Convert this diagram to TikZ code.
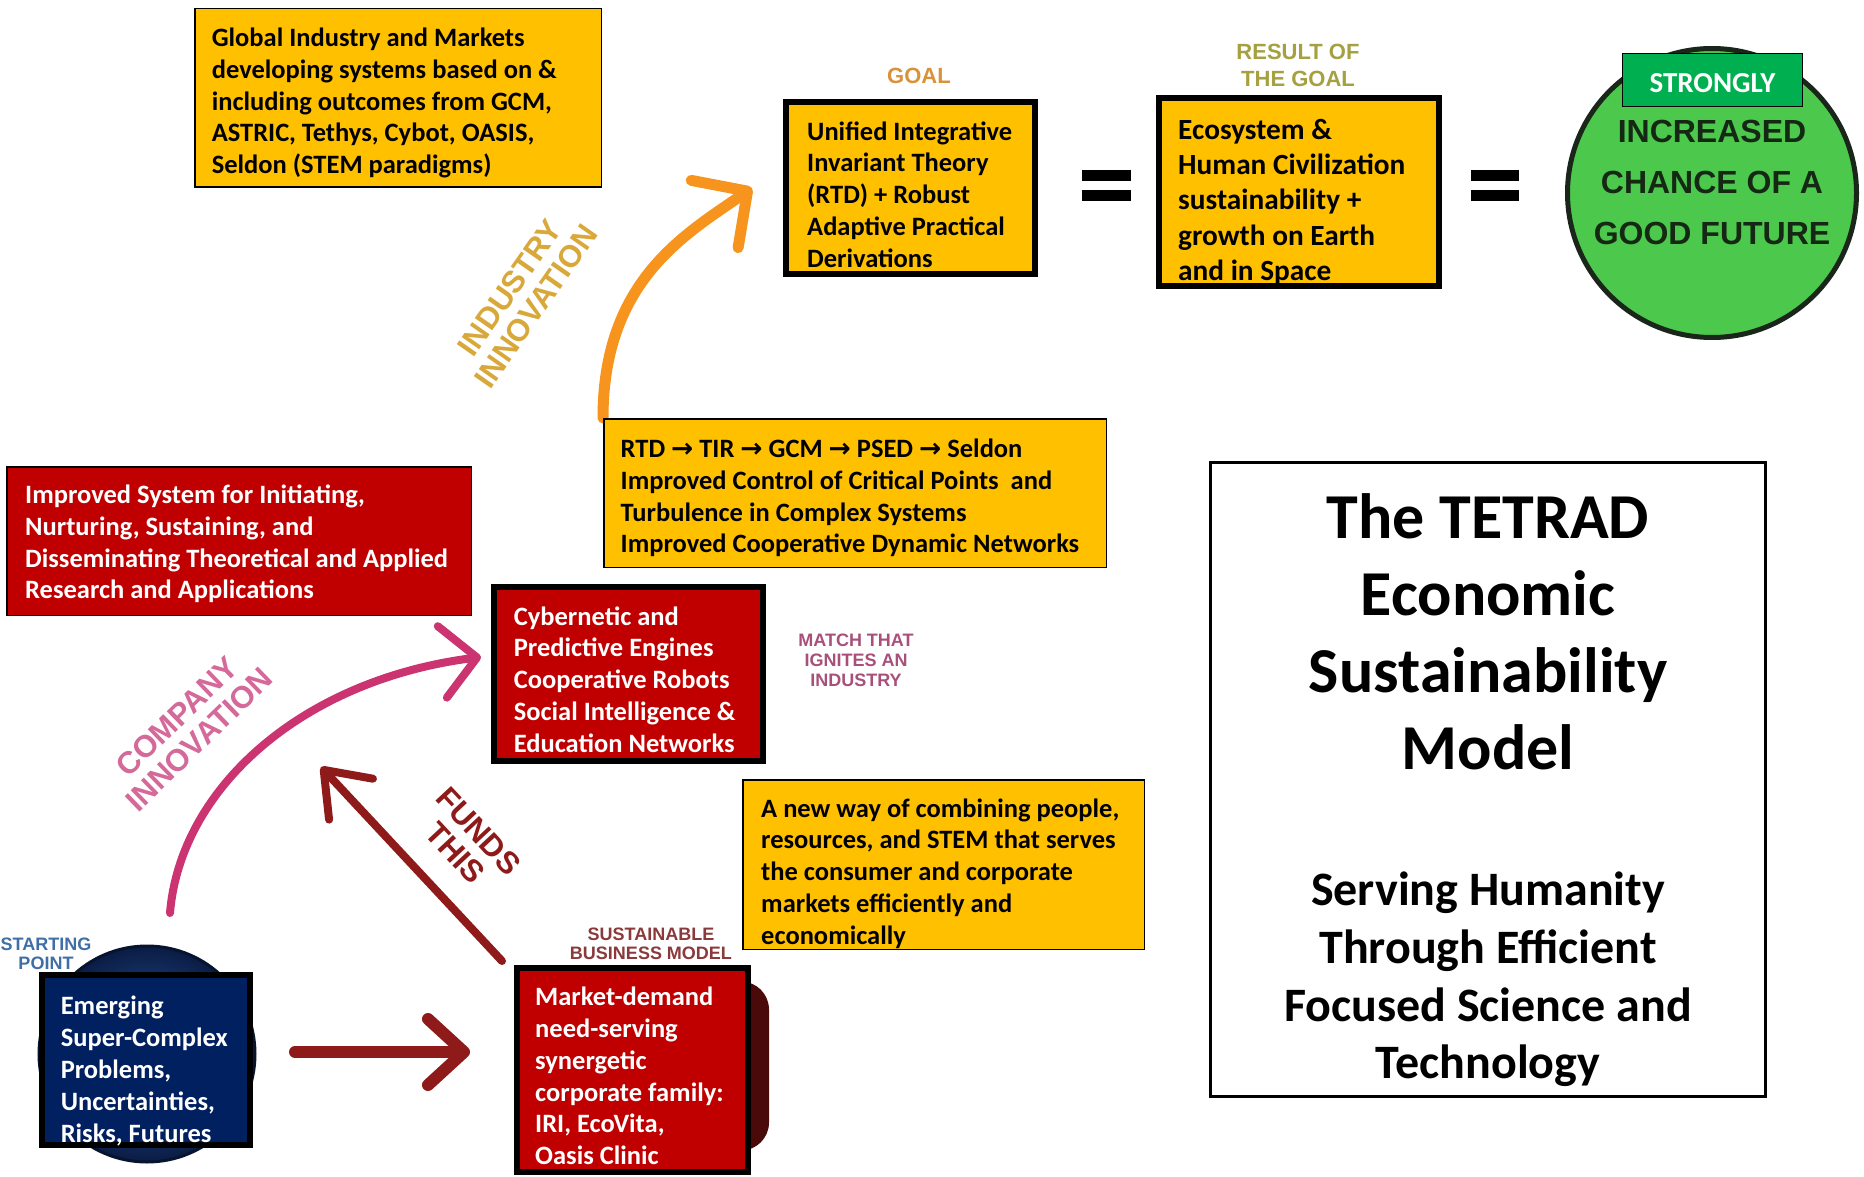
\documentclass[tikz,border=0pt]{standalone}
\usepackage{fontspec}
\setmainfont{Carlito}
\newfontfamily\lblfont{Liberation Sans}
\newfontfamily\arrowfont{DejaVu Sans}
\usetikzlibrary{arrows.meta}
\definecolor{boxgold}{HTML}{FFC000}
\definecolor{boxred}{HTML}{C00000}
\definecolor{boxnavy}{HTML}{002060}
\definecolor{circgreen}{HTML}{4CC84C}
\definecolor{strongg}{HTML}{00B050}
\definecolor{arrorange}{HTML}{F7941D}
\definecolor{arrpink}{HTML}{CB3470}
\definecolor{arrdark}{HTML}{8E1A1A}
\definecolor{lgoal}{HTML}{D8923A}
\definecolor{lresult}{HTML}{A5A040}
\definecolor{lmatch}{HTML}{A8507A}
\definecolor{lsust}{HTML}{8A3A3A}
\definecolor{lstart}{HTML}{3F6FA5}
\definecolor{lind}{HTML}{D9A83A}
\definecolor{lcomp}{HTML}{D4699A}
\definecolor{darktext}{HTML}{142814}
\definecolor{spherein}{HTML}{2F63B0}
\definecolor{sphereout}{HTML}{0A1C44}
\definecolor{mshadow}{HTML}{4B0A0A}
\definecolor{ringcol}{HTML}{1A261A}
\begin{document}
\begin{tikzpicture}[x=1pt,y=-1pt,
  bx/.style={draw=black,line width=1.5pt,inner sep=0pt},
  tbx/.style={draw=black,line width=6pt,inner sep=0pt},
  btxt/.style={anchor=west,inner sep=0pt,align=left,font=\fontsize{26.5}{31.8}\selectfont\bfseries},
  lbl/.style={inner sep=0pt,align=center},
  rlbl/.style={inner sep=0pt,align=center,font=\lblfont\bfseries\fontsize{31}{32}\selectfont}
]
\useasboundingbox (0,0) rectangle (1864,1177);
\fill[white] (0,0) rectangle (1864,1177);

% ---------- arrows ----------
\coordinate (oS) at (603,418);
\coordinate (oE) at (752,188);
\coordinate (pS) at (170,913);
\coordinate (pE) at (481,657);
\coordinate (fS) at (502,961);
\coordinate (fE) at (321,767);
\coordinate (hS) at (295,1052);
\coordinate (hE) at (470,1052);

\draw[arrorange,line width=11pt,line cap=round,-{Straight Barb[length=40pt,width=82pt,line width=11pt,round]}]
  (oS) .. controls (603,280) and (686,234) .. (oE);
\draw[arrpink,line width=8pt,line cap=round,-{Straight Barb[length=35pt,width=72pt,line width=8pt,round]}]
  (pS) .. controls (180,790) and (300,680) .. (pE);
\draw[arrdark,line width=8pt,line cap=round,-{Straight Barb[length=40pt,width=60pt,line width=8pt,round]}]
  (fS) -- (fE);
\draw[arrdark,line width=12pt,line cap=round,-{Straight Barb[length=36pt,width=66pt,line width=12pt,round]}]
  (hS) -- (hE);

% ---------- rotated arrow labels ----------
\node[rlbl,text=lind,rotate=55] (indinn) at (523,297) {INDUSTRY\\INNOVATION};
\node[rlbl,text=lcomp,rotate=44] (compinn) at (188,728) {COMPANY\\INNOVATION};
\node[rlbl,text=arrdark,rotate=-47] (funds) at (467,842) {FUNDS\\THIS};

% ---------- top row ----------
\node[bx,fill=boxgold,minimum width=406.5,minimum height=178.5] (global) at (398,98) {};
\node[btxt] (globalt) at (211.6,103) {Global Industry and Markets\\developing systems based on \&\\including outcomes from GCM,\\ASTRIC, Tethys, Cybot, OASIS,\\Seldon (STEM paradigms)};

\node[lbl,text=lgoal,font=\lblfont\bfseries\fontsize{22}{26}\selectfont] (goal) at (919,76) {GOAL};
\node[tbx,fill=boxgold,minimum width=249,minimum height=172] (unified) at (910.5,188) {};
\node[btxt] (unifiedt) at (807,194.5) {Unified Integrative\\Invariant Theory\\(RTD) + Robust\\Adaptive Practical\\Derivations};

\fill (1082,170) rectangle (1131,181);
\fill (1082,190) rectangle (1131,201);

\node[lbl,text=lresult,font=\lblfont\bfseries\fontsize{22}{27}\selectfont] (result) at (1298,65) {RESULT OF\\THE GOAL};
\node[tbx,fill=boxgold,minimum width=280,minimum height=188] (eco) at (1299,192) {};
\node[btxt,font=\fontsize{29.3}{35.2}\selectfont\bfseries] (ecot) at (1178,202) {Ecosystem \&\\Human Civilization\\sustainability +\\growth on Earth\\and in Space};

\fill (1471,170) rectangle (1519,181);
\fill (1471,190) rectangle (1519,201);

\node[circle,fill=circgreen,draw=ringcol,line width=5pt,minimum size=289,inner sep=0pt] (goodfut) at (1712,193) {};
\node[draw=black,line width=1.2pt,fill=strongg,minimum width=180,minimum height=53,inner sep=0pt] (strong) at (1712.5,80) {};
\node[inner sep=0pt,text=white,font=\fontsize{29}{30}\selectfont\bfseries] (strongt) at (1712.5,83) {STRONGLY};
\node[lbl,text=darktext,font=\lblfont\bfseries\fontsize{32}{51}\selectfont] (gft) at (1712,182) {INCREASED\\CHANCE OF A\\GOOD FUTURE};

% ---------- middle ----------
\node[bx,fill=boxgold,minimum width=502.5,minimum height=148.5] (rtd) at (855,493) {};
\node[btxt] (rtdt) at (620.5,498) {RTD {\arrowfont\bfseries →} TIR {\arrowfont\bfseries →} GCM {\arrowfont\bfseries →} PSED {\arrowfont\bfseries →} Seldon\\Improved Control of Critical Points\ \ and\\Turbulence in Complex Systems\\Improved Cooperative Dynamic Networks};

\node[bx,fill=boxred,minimum width=464.5,minimum height=148.5] (improved) at (239,541) {};
\node[btxt,text=white] (improvedt) at (25,544) {Improved System for Initiating,\\Nurturing, Sustaining, and\\Disseminating Theoretical and Applied\\Research and Applications};

\node[tbx,fill=boxred,minimum width=269,minimum height=174] (cyber) at (628.5,674) {};
\node[btxt,text=white] (cybert) at (513.6,679.5) {Cybernetic and\\Predictive Engines\\Cooperative Robots\\Social Intelligence \&\\Education Networks};

\node[lbl,text=lmatch,font=\lblfont\bfseries\fontsize{18}{20}\selectfont] (match) at (856,660) {MATCH THAT\\IGNITES AN\\INDUSTRY};

\node[bx,fill=boxgold,minimum width=401.5,minimum height=169.5] (anew) at (943.5,864.5) {};
\node[btxt] (anewt) at (761,873.5) {A new way of combining people,\\resources, and STEM that serves\\the consumer and corporate\\markets efficiently and\\economically};

% ---------- bottom ----------
\node[lbl,text=lsust,font=\lblfont\bfseries\fontsize{18}{19}\selectfont] (sust) at (651,944) {SUSTAINABLE\\BUSINESS MODEL};
\node[fill=mshadow,rounded corners=28pt,minimum width=254,minimum height=169,inner sep=0pt] (mshad) at (642,1066) {};
\node[tbx,fill=boxred,minimum width=231,minimum height=204] (market) at (632.5,1070) {};
\node[btxt,text=white] (markett) at (535,1076) {Market-demand\\need-serving\\synergetic\\corporate family:\\IRI, EcoVita,\\Oasis Clinic};

\node[lbl,text=lstart,font=\lblfont\bfseries\fontsize{18}{19}\selectfont] (start) at (46,954) {STARTING\\POINT};
\node[circle,minimum size=216,inner sep=0pt,inner color=spherein,outer color=sphereout,draw=sphereout!70!black,line width=3pt] (sphere) at (147,1054) {};
\node[tbx,fill=boxnavy,minimum width=208,minimum height=170] (emerging) at (146,1060) {};
\node[btxt,text=white] (emergingt) at (60.6,1071) {Emerging\\Super-Complex\\Problems,\\Uncertainties,\\Risks, Futures};

% ---------- title box ----------
\node[draw=black,line width=3pt,minimum width=555,minimum height=634,inner sep=0pt] (tetrad) at (1488,779.5) {};
\node[lbl,font=\fontsize{64}{77}\selectfont\bfseries] (title) at (1488,632) {The TETRAD\\Economic\\Sustainability\\Model};
\node[lbl,font=\fontsize{48}{57.7}\selectfont\bfseries] (subtitle) at (1488,979.5) {Serving Humanity\\Through Efficient\\Focused Science and\\Technology};
\end{tikzpicture}
\end{document}
